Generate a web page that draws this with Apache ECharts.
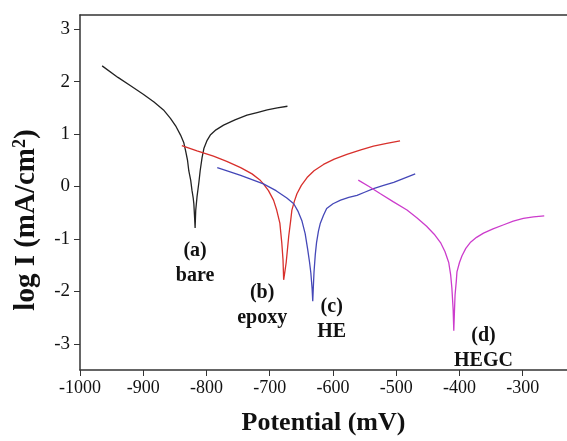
<!DOCTYPE html>
<html>
<head>
<meta charset="utf-8">
<script src="https://cdn.jsdelivr.net/npm/echarts@6/dist/echarts.min.js"></script>
<style>html,body{margin:0;padding:0;background:#fff;}#c{width:567px;height:441px;}</style>
</head>
<body>
<div id="c"></div>
<script>
// Potential (mV) and log I values
const bareE = [-965,-940,-920,-900,-883,-868,-857,-848,-841,-836,-833,-830,-828,-825,-823,-821,-820,-819,-818,-817,-815,-812,-810,-807,-804,-799,-794,-785,-773,-755,-736,-720,-704,-688,-672];
const bareI = [2.30,2.08,1.92,1.76,1.61,1.46,1.30,1.14,0.98,0.84,0.68,0.50,0.30,0.12,-0.07,-0.22,-0.33,-0.55,-0.79,-0.45,-0.20,0.08,0.30,0.55,0.73,0.88,0.98,1.08,1.17,1.27,1.36,1.41,1.46,1.50,1.53];
const epoxyE = [-839,-815,-789,-768,-746,-728,-716,-710,-702,-694,-689,-684,-681,-679,-678,-676,-674,-672,-670,-667,-665,-661,-657,-650,-641,-630,-615,-598,-578,-556,-536,-515,-494];
const epoxyI = [0.78,0.68,0.58,0.48,0.36,0.24,0.13,0.05,-0.08,-0.26,-0.45,-0.70,-1.07,-1.40,-1.78,-1.62,-1.45,-1.20,-0.95,-0.66,-0.45,-0.28,-0.14,0.02,0.17,0.30,0.42,0.52,0.61,0.70,0.77,0.82,0.87];
const heE = [-783,-765,-746,-728,-710,-690,-673,-662,-655,-649,-644,-640,-637,-635,-633,-632,-631,-630,-628,-626,-623,-620,-615,-610,-600,-588,-575,-562,-550,-536,-520,-504,-487,-470];
const heI = [0.36,0.29,0.21,0.13,0.05,-0.08,-0.22,-0.33,-0.48,-0.66,-0.90,-1.20,-1.45,-1.65,-1.95,-2.19,-1.90,-1.63,-1.30,-1.07,-0.85,-0.70,-0.55,-0.42,-0.33,-0.26,-0.21,-0.17,-0.11,-0.04,0.02,0.08,0.16,0.24];
const hegcE = [-560,-543,-525,-505,-483,-467,-452,-440,-430,-423,-417,-414,-412,-410,-409,-408,-407,-405,-404,-400,-396,-390,-383,-373,-362,-347,-330,-315,-299,-283,-266];
const hegcI = [0.12,0.00,-0.14,-0.29,-0.45,-0.60,-0.76,-0.91,-1.07,-1.24,-1.45,-1.68,-1.94,-2.35,-2.75,-2.40,-2.07,-1.80,-1.63,-1.45,-1.32,-1.18,-1.07,-0.97,-0.89,-0.81,-0.73,-0.66,-0.61,-0.58,-0.56];
const yTicks = [-3,-2,-1,0,1,2,3];
const noteText = ['(a)\nbare','(b)\nepoxy','(c)\nHE','(d)\nHEGC'];
const noteE = [-818,-712,-602,-362];
const noteI = [-1.46,-2.26,-2.53,-3.08];

const pair = (xs, ys) => xs.map((x, i) => [x, ys[i]]);
const serif = '"Liberation Serif", "Times New Roman", serif';
const chart = echarts.init(document.getElementById('c'), null, {renderer: 'canvas'});
const lineS = (d, color) => ({
  type: 'line', data: d, showSymbol: false, symbol: 'none',
  lineStyle: {color: color, width: 1.3}, animation: false
});
chart.setOption({
  backgroundColor: '#fff',
  animation: false,
  grid: {left: 80, right: 0, top: 15, bottom: 63, containLabel: false},
  xAxis: [{
    type: 'value', min: -1000, max: -230, interval: 100,
    axisLine: {show: true, onZero: false, lineStyle: {color: '#333', width: 1.5}},
    axisTick: {show: true, inside: false, length: 6, lineStyle: {color: '#333'}},
    axisLabel: {color: '#111', fontFamily: serif, fontSize: 18, margin: 9,
      showMaxLabel: false, formatter: v => String(v)},
    splitLine: {show: false},
    name: 'Potential (mV)', nameLocation: 'middle', nameGap: 40,
    nameTextStyle: {color: '#111', fontFamily: serif, fontSize: 26, fontWeight: 'bold'}
  }, {
    type: 'value', position: 'top', min: -1000, max: -230,
    axisLine: {show: true, onZero: false, lineStyle: {color: '#333', width: 1.5}},
    axisTick: {show: false}, axisLabel: {show: false}, splitLine: {show: false}
  }],
  yAxis: {
    type: 'value', min: -3.5, max: 3.27,
    axisLine: {show: true, onZero: false, lineStyle: {color: '#333', width: 1.5}},
    axisTick: {show: true, length: 6, customValues: yTicks, lineStyle: {color: '#333'}},
    axisLabel: {color: '#111', fontFamily: serif, fontSize: 19, margin: 10, customValues: yTicks},
    splitLine: {show: false}
  },
  graphic: [{
    type: 'text', x: 27, y: 220, rotation: Math.PI / 2,
    style: {
      text: '{a|log I (mA/cm}{s|2}{a|)}',
      align: 'center', verticalAlign: 'middle',
      rich: {
        a: {fill: '#111', fontFamily: serif, fontWeight: 'bold', fontSize: 29},
        s: {fill: '#111', fontFamily: serif, fontWeight: 'bold', fontSize: 18, padding: [0, 0, 14, 0]}
      }
    }
  }],
  series: [
    lineS(pair(bareE, bareI), '#222222'),
    lineS(pair(epoxyE, epoxyI), '#d8302c'),
    lineS(pair(heE, heI), '#4548b8'),
    lineS(pair(hegcE, hegcI), '#cc3ccc'),
    {
      type: 'scatter', symbol: 'circle', symbolSize: 1,
      itemStyle: {color: 'rgba(0,0,0,0)', opacity: 1},
      data: pair(noteE, noteI).map((p, i) => ({value: p, name: noteText[i]})),
      label: {show: true, position: 'inside', formatter: p => p.name, color: '#111',
        fontFamily: serif, fontWeight: 'bold', fontSize: 20, lineHeight: 25, align: 'center'},
      emphasis: {disabled: true},
      silent: true
    }
  ]
});
</script>
</body>
</html>
